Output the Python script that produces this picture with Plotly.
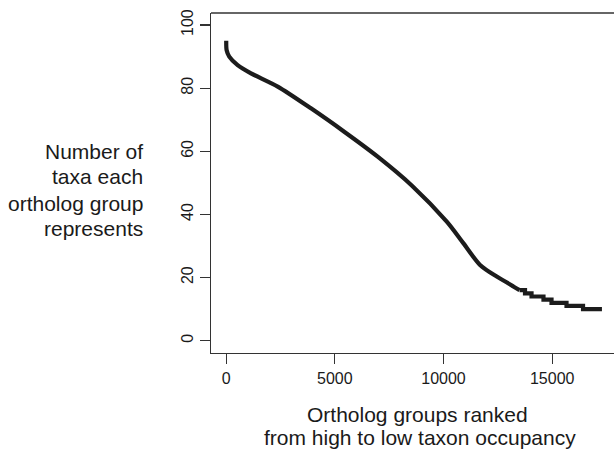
import plotly.graph_objects as go

# Data (rank of ortholog group, number of taxa)
# smooth upper part of the curve
rank_main = [1, 20, 140, 525, 1140, 2370, 3900, 5430, 6970, 8550,
             10150, 10910, 11680, 12450, 12900, 13250, 13500]
taxa_main = [95, 92, 90, 87.3, 84.7, 80.5, 73.6, 66.2, 58.3, 49.1,
             37.7, 30.9, 24.0, 20.3, 18.5, 17, 16]
# stepped tail of the curve
rank_tail = [13500, 13750, 13750, 14050, 14050, 14600, 14600, 14970, 14970,
             15660, 15660, 16420, 16420, 17290]
taxa_tail = [16, 16, 15, 15, 14, 14, 13, 13, 12, 12, 11, 11, 10, 10]

x_ticks = [0, 5000, 10000, 15000]
y_ticks = [0, 20, 40, 60, 80, 100]

W, H = 614, 449
L, R, T, B = 211, 0, 13, 96
PW, PH = W - L - R, H - T - B

def px(x):
    return (x - L) / PW

def py(y):
    return (H - B - y) / PH

FONT = "Liberation Sans, Arial, Helvetica, sans-serif"
AX = "#333333"
INK = "#1a1a1a"

fig = go.Figure()
fig.add_trace(go.Scatter(x=rank_main, y=taxa_main, mode="lines",
                         line=dict(color="#1c1c1c", width=4.2, shape="spline", smoothing=0.8),
                         hoverinfo="skip", showlegend=False))
fig.add_trace(go.Scatter(x=rank_tail, y=taxa_tail, mode="lines",
                         line=dict(color="#1c1c1c", width=4.2),
                         hoverinfo="skip", showlegend=False))

fig.update_layout(
    width=W, height=H,
    margin=dict(l=L, r=R, t=T, b=B, pad=0, autoexpand=False),
    paper_bgcolor="white", plot_bgcolor="white",
    font=dict(family=FONT, color=INK),
    showlegend=False,
    xaxis=dict(range=[-700, 17845], tickvals=x_ticks,
               ticktext=[str(v) for v in x_ticks],
               showgrid=False, zeroline=False, automargin=False,
               showline=True, linecolor=AX, linewidth=1.3, mirror=False,
               ticks="outside", ticklen=10, tickcolor=AX, tickwidth=1.2,
               tickfont=dict(size=16, family=FONT, color=INK)),
    yaxis=dict(range=[-3.9, 103.8], tickvals=y_ticks,
               ticktext=[str(v) for v in y_ticks],
               showgrid=False, zeroline=False, automargin=False,
               showline=True, linecolor=AX, linewidth=1.3, mirror=False,
               ticks="outside", ticklen=10, tickcolor=AX, tickwidth=1.2,
               tickangle=-90,
               tickfont=dict(size=16, family=FONT, color=INK)),
)

# top border of the plot box (the right side is cropped in the reference)
fig.add_shape(type="line", xref="paper", yref="paper", x0=0, x1=1, y0=1, y1=1,
              line=dict(color=AX, width=1.3))

# x-axis title (two lines)
fig.add_annotation(text="Ortholog groups ranked", xref="paper", yref="paper",
                   x=px(417), y=py(414), xanchor="center", yanchor="middle",
                   showarrow=False, font=dict(size=21, family=FONT, color=INK))
fig.add_annotation(text="from high to low taxon occupancy", xref="paper", yref="paper",
                   x=px(419.5), y=py(437), xanchor="center", yanchor="middle",
                   showarrow=False, font=dict(size=21, family=FONT, color=INK))

# y-axis title (four right-aligned lines)
ylines = ["Number of", "taxa each", "ortholog group", "represents"]
ycent = [151.7, 176.7, 203.3, 228.3]
for t, yc in zip(ylines, ycent):
    fig.add_annotation(text=t, xref="paper", yref="paper",
                       x=px(145), y=py(yc), xanchor="right", yanchor="middle",
                       showarrow=False, font=dict(size=21, family=FONT, color=INK))

fig.write_html("out.html",
               config={"displayModeBar": False, "staticPlot": True},
               post_script="document.body.style.margin='0px';document.body.style.overflow='hidden';")
